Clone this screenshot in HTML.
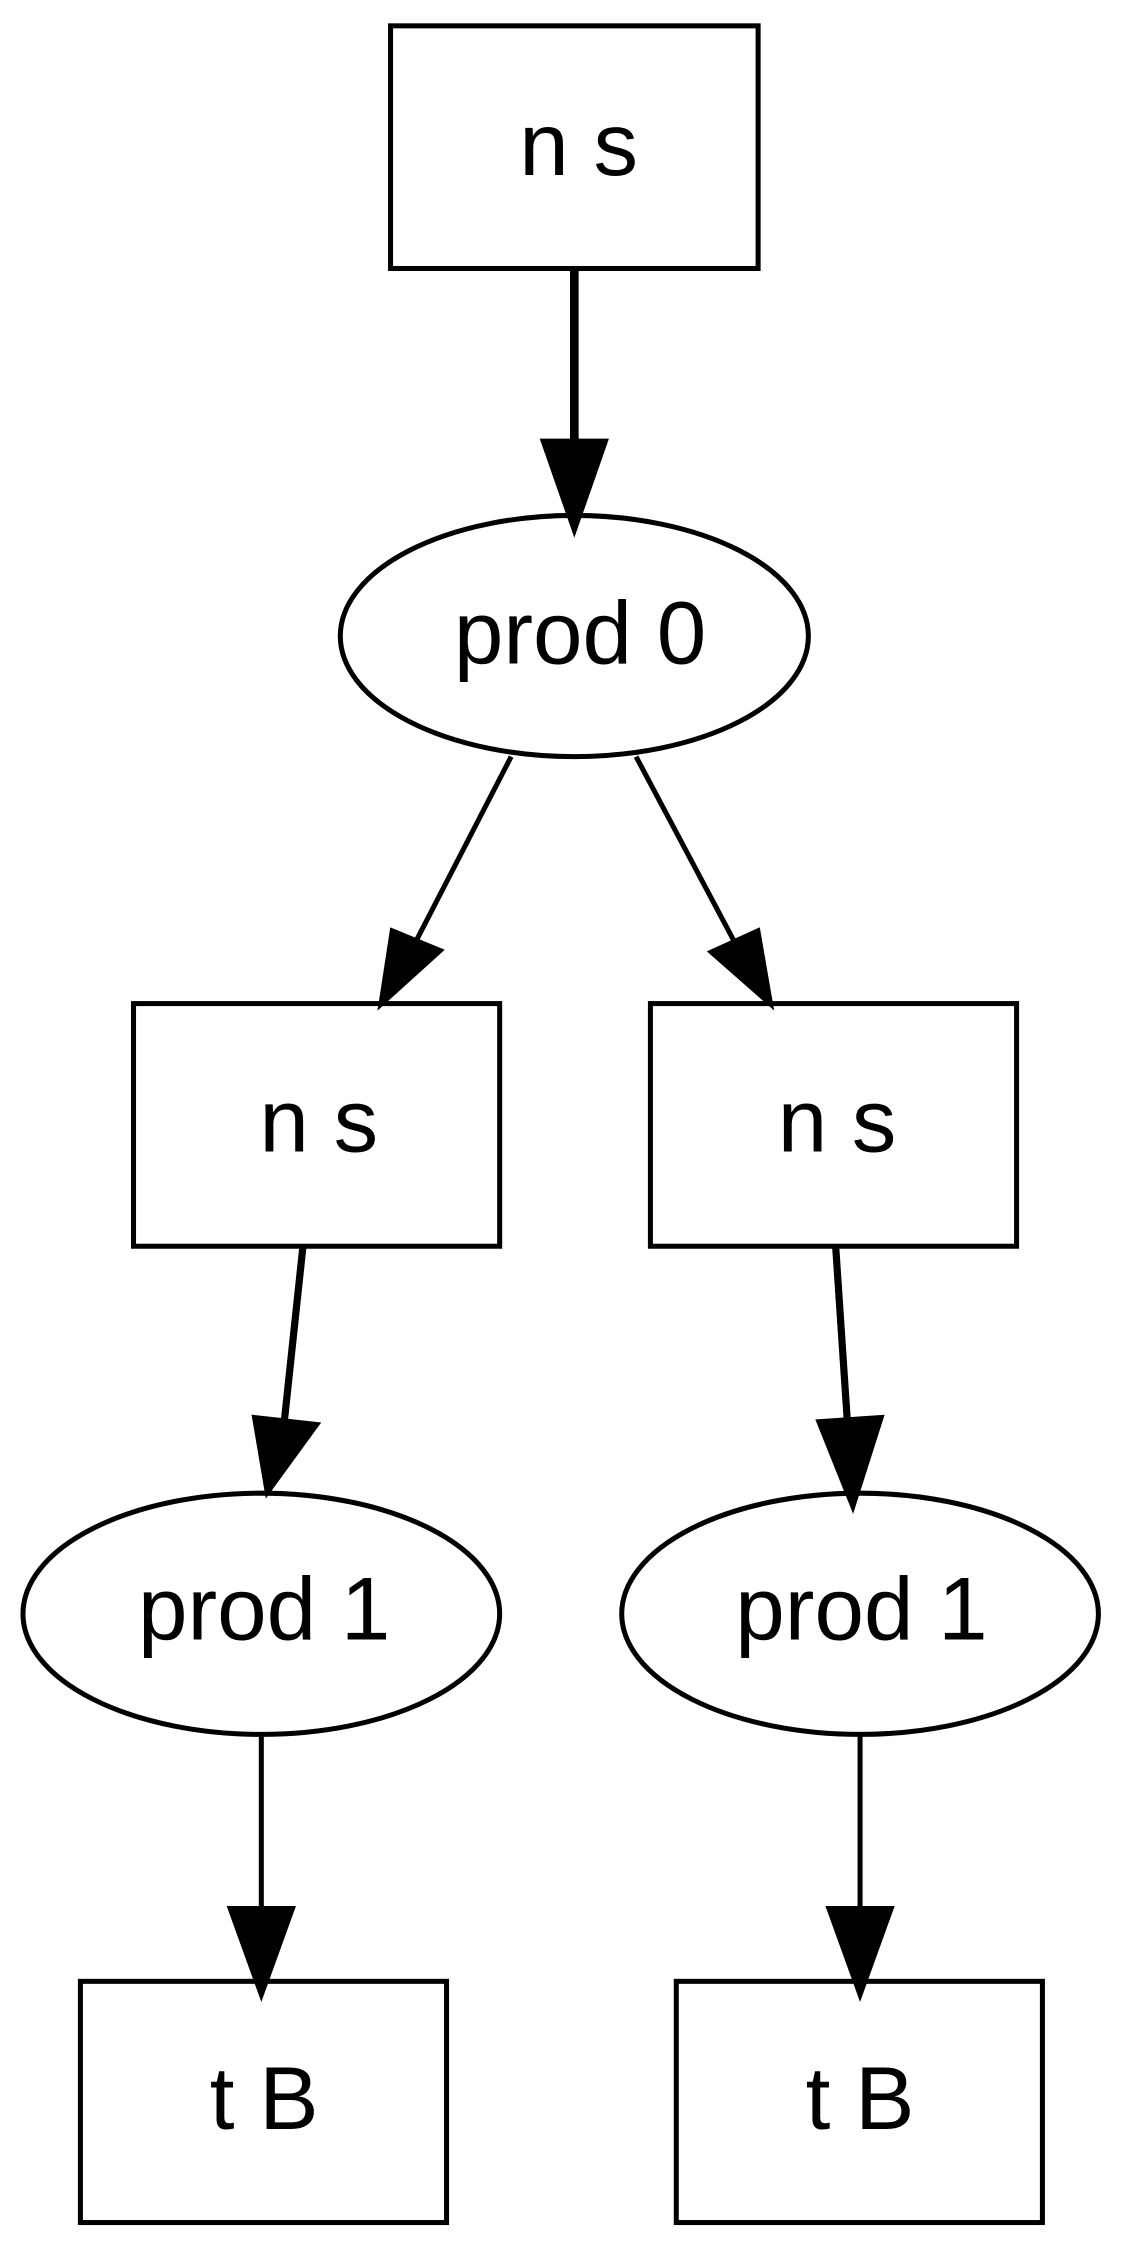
<!DOCTYPE html>
<html><head><meta charset="utf-8"><style>html,body{margin:0;padding:0;background:#fff}svg{display:block}</style></head>
<body>
<svg width="1130" height="2257" viewBox="0 0 787 1572" preserveAspectRatio="none" xmlns="http://www.w3.org/2000/svg">
<g fill="none" stroke="#000" stroke-width="3.5">
<rect x="272" y="18" width="256" height="169"/>
<ellipse cx="400" cy="443" rx="163" ry="84"/>
<rect x="93" y="699" width="255" height="169"/>
<rect x="453" y="699" width="255" height="169"/>
<ellipse cx="182" cy="1124" rx="166" ry="84"/>
<ellipse cx="599" cy="1124" rx="166" ry="84"/>
<rect x="56" y="1380" width="255" height="168"/>
<rect x="471" y="1380" width="255" height="168"/>
<line x1="400" y1="187" x2="400" y2="308" stroke-width="6"/>
<line x1="356" y1="527" x2="290" y2="655"/>
<line x1="443" y1="527" x2="511" y2="655"/>
<line x1="211" y1="868" x2="198" y2="990" stroke-width="5"/>
<line x1="582" y1="868" x2="590" y2="988" stroke-width="5"/>
<line x1="182" y1="1208" x2="182" y2="1330"/>
<line x1="599" y1="1208" x2="599" y2="1330"/>
</g>
<g fill="#000" stroke="#000" stroke-width="3">
<polygon points="378,307 422,307 400,370"/>
<polygon points="273,648 307,662 265,700"/>
<polygon points="495,663 528,648 537,700"/>
<polygon points="177,987 221,992 186,1040"/>
<polygon points="570,990 614,987 594,1050"/>
<polygon points="160,1329 204,1329 182,1390"/>
<polygon points="577,1329 621,1329 599,1390"/>
</g>
<g font-family="Liberation Sans, Arial, sans-serif" font-size="62" text-anchor="middle" fill="#000">
<text x="403" y="122">n s</text>
<text x="404" y="462">prod 0</text>
<text x="222" y="802">n s</text>
<text x="583" y="802">n s</text>
<text x="184" y="1142">prod 1</text>
<text x="600" y="1142">prod 1</text>
<text x="184" y="1483">t B</text>
<text x="599" y="1483">t B</text>
</g>
</svg>
</body></html>
